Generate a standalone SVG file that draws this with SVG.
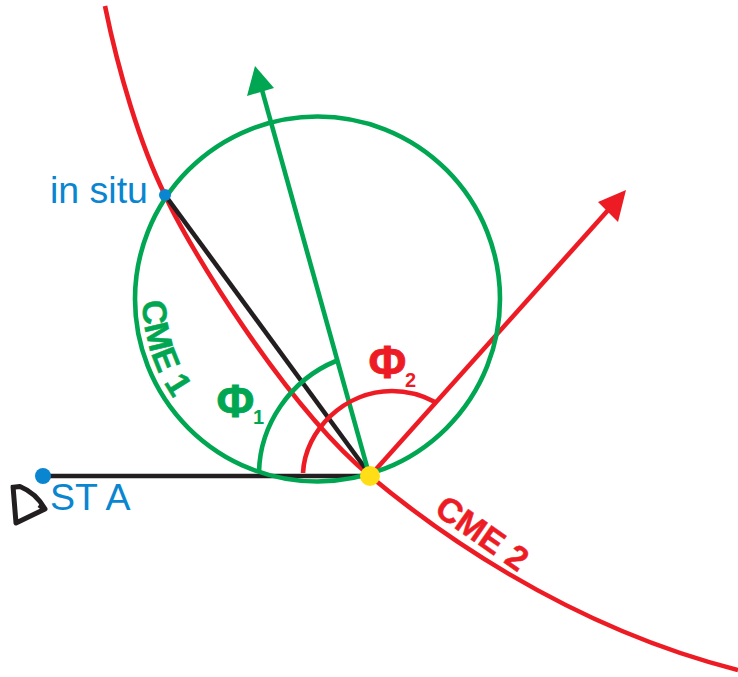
<svg xmlns="http://www.w3.org/2000/svg" width="738" height="677" viewBox="0 0 738 677">
<defs><path id="cme1path" d="M142.500 301A175 175 0 0 0 317.500 474"/></defs>
<style>
.l{fill:none;stroke-width:4.600}
.g{stroke:#00a651}.r{stroke:#ed1c24}.k{stroke:#231f20}
.t{font-family:"Liberation Sans",Arial,sans-serif}
.b{fill:#0a86d0;font-size:37.500px}
.gt{fill:#00a651}.rt{fill:#ed1c24}
.lab{font-size:34px;font-weight:bold;stroke-width:.5px}
.phi{font-size:46px;font-weight:bold;stroke-width:.8px}
.sub{font-size:20px;font-weight:bold}
.gt.lab,.gt.phi{stroke:#00a651}.rt.lab,.rt.phi{stroke:#ed1c24}
</style>
<g id="connectors">
<path id="cme2-front" class="l r" d="M105 6C118 70 140 145 165 195C186 243 285 405 370 476C425 522 560 625 738 670"/>
<path id="line-sta" class="l k" d="M43 476H370"/>
<path id="line-insitu" class="l k" d="M165 195L368 472"/>
<path id="arrow-cme1" class="l g" d="M369 474L262 90"/>
<path class="gt" d="M255 66L247 96L274 88Z"/>
<path id="arrow-cme2" class="l r" d="M370 476L610 208"/>
<path class="rt" d="M626 190L598 202L618 222Z"/>
<path id="arc-phi1" class="l g" d="M259 472C260 425 290 380 336 361"/>
<path id="arc-phi2" class="l r" d="M303 473C305 430 345 391 392 391C408 391 422 395 435 402"/>
</g>
<g id="cme1"><circle class="l g" cx="317.500" cy="299" r="182.500"/>
<text class="t lab gt"><textPath href="#cme1path">CME 1</textPath></text></g>
<g id="cme2"><text class="t lab rt" transform="translate(433 513) rotate(35)">CME 2</text></g>
<g id="phi1"><text class="t phi gt" x="216.500" y="416.500">Φ</text><text class="t sub gt" x="253" y="424">1</text></g>
<g id="phi2"><text class="t phi rt" x="368.500" y="377.500">Φ</text><text class="t sub rt" x="405" y="387">2</text></g>
<g id="center"><circle cx="370" cy="476" r="10" fill="#ffde17"/></g>
<g id="insitu"><circle cx="165" cy="195" r="6" fill="#0a86d0"/><text class="t b" x="50" y="203">in situ</text></g>
<g id="sta"><circle cx="43" cy="476" r="8" fill="#0a86d0"/><text class="t b" x="50" y="510">ST A</text>
<path d="M11 487.500L20 486.500C31 491 40 500 45 509L16 523L13 486M39 505L46 510" fill="none" stroke="#231f20" stroke-width="5" stroke-linejoin="round"/></g>
</svg>
